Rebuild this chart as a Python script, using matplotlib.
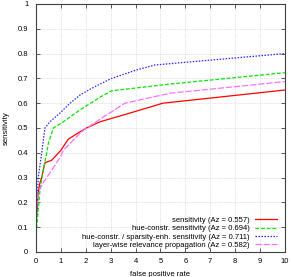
import numpy as np
import matplotlib
matplotlib.use("Agg")
import matplotlib.pyplot as plt

plt.rcParams['font.family'] = ['Liberation Sans', 'DejaVu Sans']

# ROC-like curves (false positive rate, sensitivity)
fpr_sens = [0, 0.02, 0.09, 0.16, 0.23, 0.36, 0.63, 1.0, 1.3, 1.63, 2.03, 2.57, 3.5, 5.1, 10]
sens = [0.08, 0.14, 0.24, 0.28, 0.30, 0.36, 0.37, 0.41, 0.455, 0.476, 0.50, 0.525, 0.552, 0.60, 0.653]

fpr_hue = [0, 0.03, 0.16, 0.29, 0.43, 0.5, 0.7, 1.1, 1.77, 2.57, 3.04, 5.38, 10]
hue = [0.05, 0.10, 0.25, 0.33, 0.40, 0.44, 0.50, 0.525, 0.573, 0.624, 0.65, 0.677, 0.723]

fpr_hs = [0, 0.03, 0.09, 0.23, 0.36, 0.56, 0.96, 1.37, 1.77, 2.17, 2.57, 3.04, 4.04, 4.78, 10]
hue_sparse = [0.10, 0.16, 0.30, 0.40, 0.50, 0.525, 0.56, 0.60, 0.633, 0.656, 0.677, 0.70, 0.734, 0.754, 0.80]

fpr_lrp = [0, 0.03, 0.09, 0.29, 0.43, 0.7, 0.96, 1.1, 1.63, 1.9, 2.57, 3.57, 5.38, 10]
lrp = [0.15, 0.18, 0.24, 0.28, 0.30, 0.34, 0.38, 0.41, 0.465, 0.49, 0.535, 0.60, 0.64, 0.687]

labels = [
    "sensitivity (Az = 0.557)",
    "hue-constr. sensitivity (Az = 0.694)",
    "hue-constr. / sparsity-enh. sensitivity (Az = 0.711)",
    "layer-wise relevance propagation (Az = 0.582)",
]

fig = plt.figure(figsize=(2.91, 2.77), dpi=100)
ax = fig.add_axes([0.1237, 0.0903, 0.855, 0.8953])

ax.plot(fpr_sens, sens, color='#ff0000', lw=0.9, ls='-', label=labels[0])
ax.plot(fpr_hue, hue, color='#00e800', lw=0.9, ls=(0, (3, 1.5)), label=labels[1])
ax.plot(fpr_hs, hue_sparse, color='#2828ff', lw=0.9, ls=(0, (1.2, 1.2)), label=labels[2])
ax.plot(fpr_lrp, lrp, color='#ff70ff', lw=0.9, ls=(0, (5, 1.5)), label=labels[3])

ax.set_xlim(0, 10)
ax.set_ylim(0, 1)
ax.set_xticks(np.arange(0, 11, 1))
ax.set_yticks(np.arange(0, 1.01, 0.1))
ax.set_yticklabels(["0", "0.1", "0.2", "0.3", "0.4", "0.5", "0.6", "0.7", "0.8", "0.9", "1"])
ax.tick_params(direction='in', length=3, width=0.6, color='#404040',
               labelsize=5.5, top=True, right=True)
ax.tick_params(axis='y', pad=5.5)
ax.tick_params(axis='x', pad=4.3)
ax.grid(True, color='#c8c8c8', ls=(0, (1, 1.5)), lw=0.5)
for s in ax.spines.values():
    s.set_color('#404040')
    s.set_linewidth(0.8)

ax.set_xlabel("false positive rate", fontsize=5.5, labelpad=4)
ax.set_ylabel("sensitivity", fontsize=5.5, labelpad=5.5)

leg = ax.legend(loc='lower right', bbox_to_anchor=(0.969, 0.012), fontsize=5.5,
                frameon=False, markerfirst=False, handlelength=2.9,
                handletextpad=0.65, labelspacing=0.13, borderaxespad=0,
                borderpad=0)
for t in leg.get_texts():
    t.set_ha('right')
leg._legend_box.align = 'right'

fig.savefig("out.png", dpi=100)
